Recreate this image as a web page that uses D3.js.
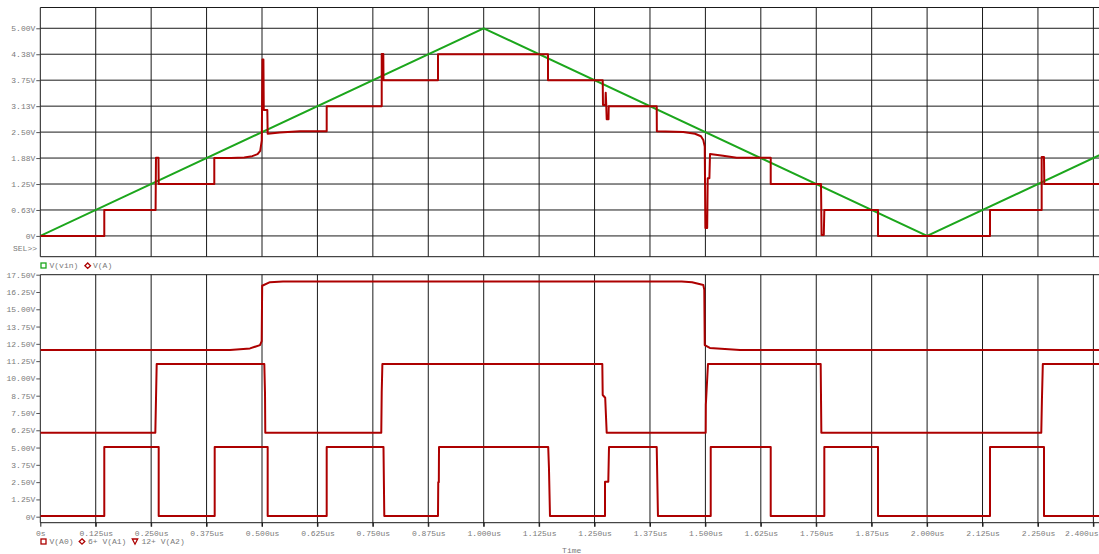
<!DOCTYPE html>
<html>
<head>
<meta charset="utf-8">
<script src="https://cdn.jsdelivr.net/npm/d3@7"></script>
<style>
  html, body { margin: 0; padding: 0; background: #fff; }
  svg { display: block; }
  .lbl { font-family: "Liberation Mono", "DejaVu Sans Mono", monospace; font-size: 8px; fill: #7a7a7a; }
</style>
</head>
<body>
<svg id="chart" width="1099" height="554"></svg>
<script>
// ---- time axis (microseconds) ----
const timeTicks = [0, 0.125, 0.25, 0.375, 0.5, 0.625, 0.75, 0.875, 1.0, 1.125, 1.25, 1.375,
                   1.5, 1.625, 1.75, 1.875, 2.0, 2.125, 2.25, 2.375];
const timeTickLabels = ["0s", "0.125us", "0.250us", "0.375us", "0.500us", "0.625us", "0.750us",
                        "0.875us", "1.000us", "1.125us", "1.250us", "1.375us", "1.500us", "1.625us",
                        "1.750us", "1.875us", "2.000us", "2.125us", "2.250us", "2.400us"];

// ---- upper plot: input ramp and DAC output ----
const topTicks = [0, 0.625, 1.25, 1.875, 2.5, 3.125, 3.75, 4.375, 5.0];
const topTickLabels = ["0V", "0.63V", "1.25V", "1.88V", "2.50V", "3.13V", "3.75V", "4.38V", "5.00V"];

// V(vin): triangular sweep [time us, volts]
const vin = [[0, 0], [1.0, 5.0], [2.0, 0], [2.4, 2.0]];

// V(A): reconstructed staircase with switching glitches
const vA = [
  [0, 0], [0.1443, 0], [0.1443, 0.625],
  [0.2600, 0.625], [0.2609, 1.88], [0.2665, 1.88], [0.2670, 1.25],
  [0.3924, 1.25], [0.3924, 1.875], [0.430, 1.875], [0.460, 1.89], [0.478, 1.92], [0.490, 1.97],
  [0.496, 2.05], [0.4995, 2.30],
  [0.5010, 4.25], [0.5032, 4.25], [0.5040, 3.03], [0.5120, 3.03], [0.5128, 2.46],
  [0.540, 2.49], [0.5857, 2.52],
  [0.6459, 2.52], [0.6459, 3.125], [0.7700, 3.125], [0.7700, 4.38], [0.7736, 4.38], [0.7740, 3.75],
  [0.8969, 3.75], [0.8969, 4.375], [1.1450, 4.375], [1.1450, 3.75],
  [1.2684, 3.75], [1.2690, 3.15], [1.2745, 3.15], [1.2752, 3.45], [1.2762, 3.20], [1.2774, 2.81],
  [1.2815, 2.81], [1.2819, 3.125],
  [1.3902, 3.125], [1.3905, 2.52], [1.450, 2.50], [1.4765, 2.46], [1.490, 2.40], [1.4953, 2.31],
  [1.4985, 2.15], [1.5000, 0.19], [1.5040, 0.19], [1.5052, 1.39], [1.5090, 1.39], [1.5104, 1.97],
  [1.540, 1.93], [1.5706, 1.88],
  [1.6473, 1.88], [1.6473, 1.25], [1.7607, 1.25], [1.7620, 0.02], [1.7670, 0.02], [1.7682, 0.625],
  [1.8893, 0.625], [1.8893, 0], [2.1419, 0], [2.1419, 0.625],
  [2.2584, 0.625], [2.2584, 1.90], [2.2636, 1.90], [2.2643, 1.25], [2.4, 1.25]
];

// ---- lower plot: digital outputs, stacked with offsets ----
const bottomTicks = [0, 1.25, 2.5, 3.75, 5, 6.25, 7.5, 8.75, 10, 11.25, 12.5, 13.75, 15, 16.25, 17.5];
const bottomTickLabels = ["0V", "1.25V", "2.50V", "3.75V", "5.00V", "6.25V", "7.50V", "8.75V",
                          "10.00V", "11.25V", "12.50V", "13.75V", "15.00V", "16.25V", "17.50V"];

const offsetA1 = 6;
const offsetA2 = 12;

// V(A0) – LSB
const a0 = [
  [0, 0.05], [0.1443, 0.05], [0.1443, 5.04], [0.2670, 5.04], [0.2670, 0.05],
  [0.3933, 0.05], [0.3933, 5.04], [0.5128, 5.04], [0.5128, 0.05],
  [0.6459, 0.05], [0.6459, 5.04], [0.7740, 5.04], [0.7758, 0.05],
  [0.8969, 0.05], [0.8975, 2.50], [0.8988, 2.50], [0.8992, 5.04],
  [1.1455, 5.04], [1.1472, 3.50], [1.1495, 0.05],
  [1.2736, 0.05], [1.2736, 2.53], [1.2810, 2.53], [1.2826, 5.04],
  [1.3902, 5.04], [1.3930, 0.05], [1.5120, 0.05], [1.5120, 5.04],
  [1.6473, 5.04], [1.6473, 0.05], [1.7682, 0.05], [1.7682, 5.04],
  [1.8893, 5.04], [1.8893, 0.05], [2.1419, 0.05], [2.1419, 5.04],
  [2.2636, 5.04], [2.2636, 0.05], [2.4, 0.05]
];

// V(A1)
const a1 = [
  [0, 0.07], [0.2594, 0.07], [0.2625, 5.04], [0.5052, 5.04], [0.5068, 2.90], [0.5074, 0.07],
  [0.7690, 0.07], [0.7700, 3.00], [0.7715, 5.04],
  [1.2675, 5.04], [1.2684, 2.80], [1.2740, 2.60], [1.2774, 0.07],
  [1.5007, 0.07], [1.5010, 2.10], [1.5058, 5.04],
  [1.7600, 5.04], [1.7615, 0.07],
  [2.2575, 0.07], [2.2590, 2.50], [2.2610, 5.04], [2.4, 5.04]
];

// V(A2) – MSB
const a2 = [
  [0, 0.05], [0.4278, 0.05], [0.4729, 0.17], [0.4955, 0.41], [0.4993, 0.70], [0.5004, 4.70],
  [0.5180, 4.96], [0.5474, 5.0],
  [1.4465, 5.0], [1.470, 4.95], [1.4953, 4.76], [1.4975, 4.40], [1.4985, 0.41],
  [1.510, 0.20], [1.5780, 0.05], [2.4, 0.05]
];

// ---- layout ----
const svg = d3.select("#chart");
const W = 1099;
const left = 40.3;
const x = d3.scaleLinear().domain([0, 2.4]).range([left, left + 2.4 * 443.4]);

const topTop = 7.5, topBottom = 256.7;
const yTop = d3.scaleLinear().domain([-0.5, 5.5]).range([topBottom, topTop]);

const botTop = 274.7, botBottom = 522.7;
const yBot = d3.scaleLinear().domain([-0.434, 17.5]).range([botBottom, botTop]);

const gridColor = "#1a1a1a";
const red = "#ad0000";
const green = "#1ca61c";

// clip regions for the two plots
const defs = svg.append("defs");
defs.append("clipPath").attr("id", "clipTop")
  .append("rect").attr("x", left).attr("y", topTop).attr("width", W - left).attr("height", topBottom - topTop);
defs.append("clipPath").attr("id", "clipBot")
  .append("rect").attr("x", left).attr("y", botTop).attr("width", W - left).attr("height", botBottom - botTop);

// ---------- upper plot ----------
const gTop = svg.append("g");

// vertical grid
gTop.selectAll("line.vg").data(timeTicks.slice(1)).join("line")
  .attr("x1", d => x(d)).attr("x2", d => x(d))
  .attr("y1", topTop).attr("y2", topBottom)
  .attr("stroke", gridColor).attr("stroke-width", 1);

// horizontal grid
gTop.selectAll("line.hg").data(topTicks).join("line")
  .attr("x1", left).attr("x2", W)
  .attr("y1", d => yTop(d)).attr("y2", d => yTop(d))
  .attr("stroke", gridColor).attr("stroke-width", 1);

// frame
gTop.append("line").attr("x1", left).attr("x2", W).attr("y1", topTop).attr("y2", topTop)
  .attr("stroke", gridColor);
gTop.append("line").attr("x1", left).attr("x2", W).attr("y1", topBottom).attr("y2", topBottom)
  .attr("stroke", gridColor);

// y axis with small ticks
const axTop = d3.axisLeft(yTop).tickValues(topTicks).tickSize(4).tickPadding(1)
  .tickFormat((d, i) => topTickLabels[i]);
const gAxTop = gTop.append("g").attr("transform", `translate(${left},0)`).call(axTop);
gAxTop.select(".domain").attr("d", `M0,${topTop}V${topBottom}`).attr("stroke", gridColor);
gAxTop.selectAll(".tick line").attr("stroke", "#555");
gAxTop.selectAll(".tick text").attr("class", "lbl").attr("font-family", null).attr("font-size", null);

gTop.append("text").attr("class", "lbl").attr("x", 13).attr("y", 251).text("SEL>>");

// traces
const line = (ys) => d3.line().x(d => x(d[0])).y(d => ys(d[1]));
const gTopTr = gTop.append("g").attr("clip-path", "url(#clipTop)");
gTopTr.append("path").datum(vin).attr("d", line(yTop))
  .attr("fill", "none").attr("stroke", green).attr("stroke-width", 2);
gTopTr.append("path").datum(vA).attr("d", line(yTop))
  .attr("fill", "none").attr("stroke", red).attr("stroke-width", 2).attr("stroke-linejoin", "round");

// legend (upper)
const legTop = svg.append("g");
legTop.append("rect").attr("x", 41).attr("y", 263).attr("width", 5).attr("height", 5)
  .attr("fill", "#fff").attr("stroke", green).attr("stroke-width", 1.3);
legTop.append("text").attr("class", "lbl").attr("x", 49.5).attr("y", 268.3).text("V(vin)");
legTop.append("path").attr("d", "M87.7,263L90.5,265.7L87.7,268.4L84.9,265.7Z")
  .attr("fill", "#fff").attr("stroke", red).attr("stroke-width", 1.3);
legTop.append("text").attr("class", "lbl").attr("x", 93).attr("y", 268.3).text("V(A)");

// ---------- lower plot ----------
const gBot = svg.append("g");

gBot.selectAll("line.vg").data(timeTicks.slice(1)).join("line")
  .attr("x1", d => x(d)).attr("x2", d => x(d))
  .attr("y1", botTop).attr("y2", botBottom + 4)
  .attr("stroke", gridColor).attr("stroke-width", 1);

gBot.append("line").attr("x1", left).attr("x2", W).attr("y1", botTop).attr("y2", botTop)
  .attr("stroke", gridColor);

const axBotY = d3.axisLeft(yBot).tickValues(bottomTicks).tickSize(4).tickPadding(1)
  .tickFormat((d, i) => bottomTickLabels[i]);
const gAxBotY = gBot.append("g").attr("transform", `translate(${left},0)`).call(axBotY);
gAxBotY.select(".domain").attr("d", `M0,${botTop}V${botBottom}`).attr("stroke", gridColor);
gAxBotY.selectAll(".tick line").attr("stroke", "#555");
gAxBotY.selectAll(".tick text").attr("class", "lbl").attr("font-family", null).attr("font-size", null);

const axBotX = d3.axisBottom(x).tickValues(timeTicks).tickSize(4).tickPadding(4)
  .tickFormat((d, i) => timeTickLabels[i]);
const gAxBotX = gBot.append("g").attr("transform", `translate(0,${botBottom})`).call(axBotX);
gAxBotX.select(".domain").attr("d", `M${left},0H${W}`).attr("stroke", gridColor);
gAxBotX.selectAll(".tick line").attr("stroke", gridColor);
gAxBotX.selectAll(".tick text").attr("class", "lbl").attr("font-family", null).attr("font-size", null);
// keep the last time label inside the page edge
gAxBotX.selectAll(".tick text").filter((d, i) => i === timeTicks.length - 1)
  .attr("text-anchor", "end").attr("x", W - 1 - x(timeTicks[timeTicks.length - 1]));

gBot.append("text").attr("class", "lbl").attr("x", 571.7).attr("y", 553).attr("text-anchor", "middle")
  .text("Time");

const gBotTr = gBot.append("g").attr("clip-path", "url(#clipBot)");
const stacked = [
  { data: a0, offset: 0 },
  { data: a1, offset: offsetA1 },
  { data: a2, offset: offsetA2 }
];
gBotTr.selectAll("path.trace").data(stacked).join("path")
  .attr("d", s => line(yBot)(s.data.map(p => [p[0], p[1] + s.offset])))
  .attr("fill", "none").attr("stroke", red).attr("stroke-width", 2).attr("stroke-linejoin", "round");

// legend (lower)
const legBot = svg.append("g");
legBot.append("rect").attr("x", 41).attr("y", 539).attr("width", 5).attr("height", 5)
  .attr("fill", "#fff").attr("stroke", red).attr("stroke-width", 1.3);
legBot.append("text").attr("class", "lbl").attr("x", 49.5).attr("y", 544.2).text("V(A0)");
legBot.append("path").attr("d", "M82,538.8L84.8,541.5L82,544.2L79.2,541.5Z")
  .attr("fill", "#fff").attr("stroke", red).attr("stroke-width", 1.3);
legBot.append("text").attr("class", "lbl").attr("x", 88).attr("y", 544.2).text("6+ V(A1)");
legBot.append("path").attr("d", "M132.3,539L137.7,539L135,544.2Z")
  .attr("fill", "#fff").attr("stroke", red).attr("stroke-width", 1.3);
legBot.append("text").attr("class", "lbl").attr("x", 141.5).attr("y", 544.2).text("12+ V(A2)");
</script>
</body>
</html>
